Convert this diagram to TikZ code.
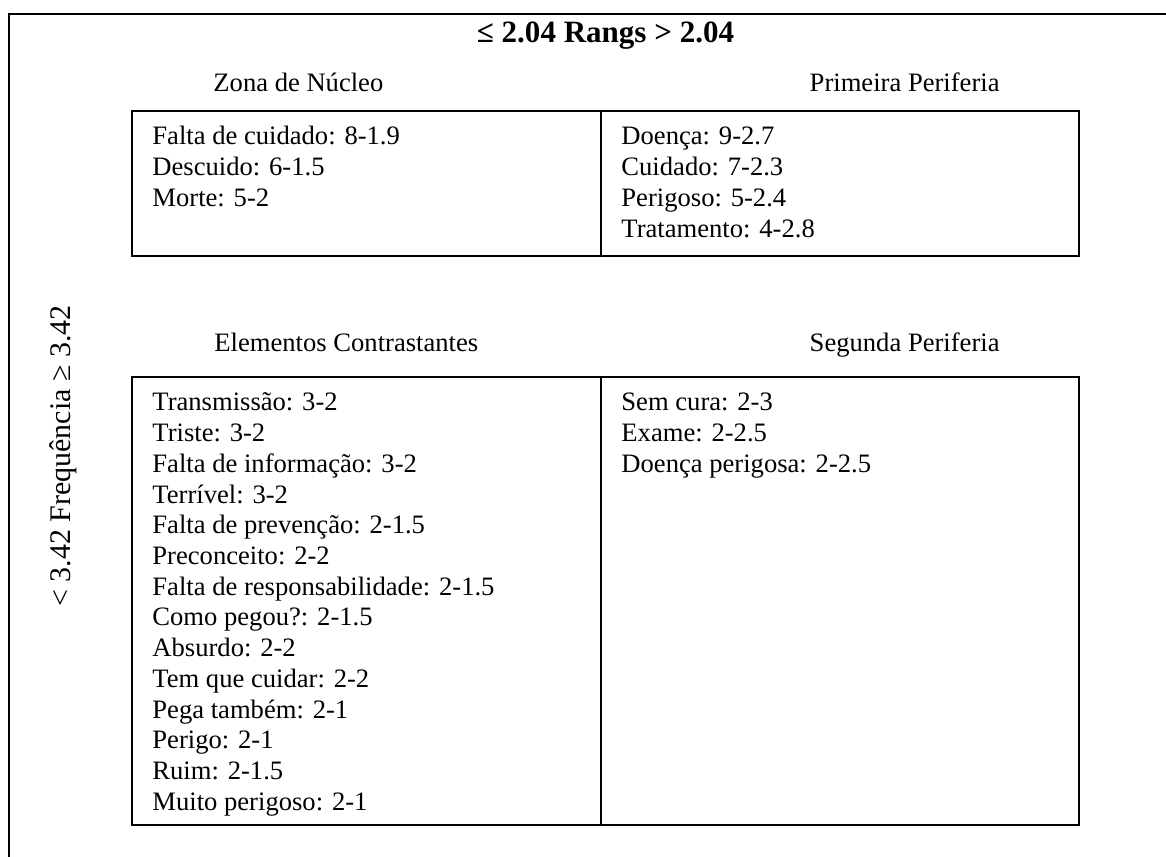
\documentclass[tikz,border=0pt]{standalone}
\usepackage{fontspec}
\setmainfont{Liberation Serif}

\begin{document}
\begin{tikzpicture}[x=0.4511pt,y=-0.4511pt,
    every node/.style={inner sep=0pt,font=\fontsize{12}{13.8}\selectfont},
    cell/.style={line width=0.7pt},
    head/.style={font=\fontsize{12}{13.8}\selectfont}]
  \useasboundingbox (0,0) rectangle (1166,857);
  \draw[cell] (1166,14) -- (9,14) -- (9,857);
  \node[anchor=base,font=\fontsize{14}{16}\selectfont\bfseries] (rangs) at (605.5,43) {≤ 2.04 Rangs > 2.04};
  \node[rotate=90,font=\fontsize{13.5}{16}\selectfont] (freq) at (63,456) {< 3.42 Frequência ≥ 3.42};
  % titles of the four zones
  \node[head,anchor=base west] (nucleo) at (213,92) {Zona de Núcleo};
  \node[head,anchor=base east] (prim) at (1000,92) {Primeira Periferia};
  \node[head,anchor=base west] (contr) at (214,352) {Elementos Contrastantes};
  \node[head,anchor=base east] (seg) at (1000,352) {Segunda Periferia};
  % table cells
  \draw[cell] (132,111) rectangle (1079,256);
  \draw[cell] (601,111) -- (601,256);
  \draw[cell] (132,377) rectangle (1079,825);
  \draw[cell] (601,377) -- (601,825);
  \foreach \t [count=\i] in {Falta de cuidado: 8-1.9, Descuido: 6-1.5, Morte: 5-2}
    \node[anchor=base west] (nuc\i) at (152,{145+30.7*(\i-1)}) {\t};
  \foreach \t [count=\i] in {Doença: 9-2.7, Cuidado: 7-2.3, Perigoso: 5-2.4, Tratamento: 4-2.8}
    \node[anchor=base west] (pri\i) at (621,{145+30.7*(\i-1)}) {\t};
  \foreach \t [count=\i] in {Transmissão: 3-2, Triste: 3-2, Falta de informação: 3-2,
      Terrível: 3-2, Falta de prevenção: 2-1.5, Preconceito: 2-2,
      Falta de responsabilidade: 2-1.5, Como pegou?: 2-1.5, Absurdo: 2-2,
      Tem que cuidar: 2-2, Pega também: 2-1, Perigo: 2-1, Ruim: 2-1.5,
      Muito perigoso: 2-1}
    \node[anchor=base west] (con\i) at (152,{411+30.7*(\i-1)}) {\t};
  \foreach \t [count=\i] in {Sem cura: 2-3, Exame: 2-2.5, Doença perigosa: 2-2.5}
    \node[anchor=base west] (seg\i) at (621,{411+30.7*(\i-1)}) {\t};
\end{tikzpicture}
\end{document}
